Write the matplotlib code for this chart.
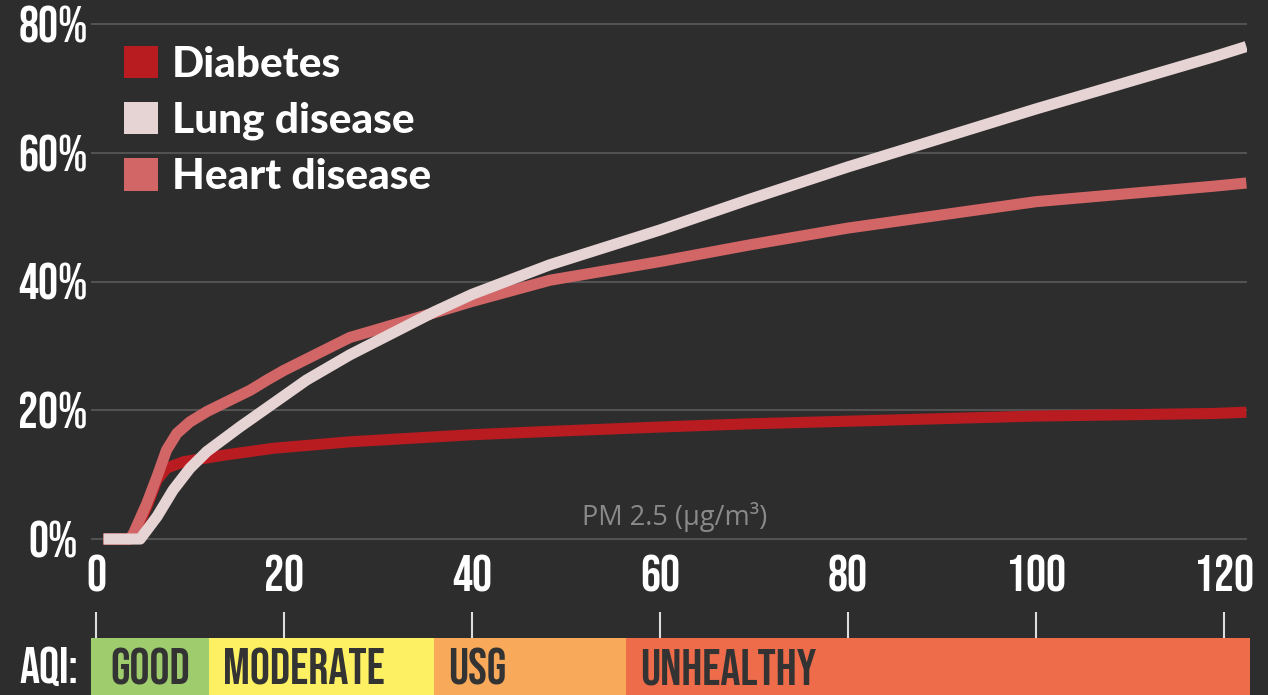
import matplotlib.pyplot as plt
from matplotlib.patches import Patch

# PM 2.5 (ug/m3) vs. increased risk (%)
diabetes_x = [0.8, 3.6, 4.0, 5.4, 6.5, 7.5, 9.3, 13.5, 18.9, 27, 40, 48, 60, 69.6, 80, 100, 118.9, 122.4]
diabetes_y = [0, 0, 0.4, 5.0, 9.2, 11.0, 12.0, 13.0, 14.1, 15.1, 16.2, 16.7, 17.4, 17.9, 18.3, 19.1, 19.5, 19.7]

heart_x = [0.8, 3.6, 4.0, 5.4, 6.5, 7.5, 8.6, 10, 11.8, 14.3, 16.4, 18.2, 20, 27, 36.6, 40, 48.3, 60, 69.6, 80, 100, 118.9, 122.4]
heart_y = [0, 0, 0.9, 5.5, 9.7, 13.8, 16.4, 18.2, 19.8, 21.6, 23.1, 24.7, 26.2, 31.3, 35.4, 36.9, 40.2, 43.1, 45.7, 48.3, 52.4, 54.8, 55.3]

lung_x = [0.8, 4.7, 6.5, 8.2, 10, 11.8, 15.3, 18.9, 22.4, 27, 36, 40, 48.3, 60, 69.6, 80, 100, 118.9, 122.4]
lung_y = [0, 0, 3.5, 7.6, 11.0, 13.6, 17.4, 21.1, 24.7, 28.6, 35.3, 38.0, 42.6, 48.0, 52.8, 57.8, 66.8, 74.9, 76.5]

series_names = ['Diabetes', 'Lung disease', 'Heart disease']
series_colors = ['#b81c21', '#e6d3d3', '#d26566']

aqi_names = ['GOOD', 'MODERATE', 'USG', 'UNHEALTHY']
aqi_start = [-0.5, 12, 36, 56.4]
aqi_end = [12, 36, 56.4, 122.8]
aqi_colors = ['#9fcd6e', '#fdf163', '#f8a95a', '#ef6c4b']

xticks = [0, 20, 40, 60, 80, 100, 120]
yticks = [0, 20, 40, 60, 80]
ylabels = ['0%', '20%', '40%', '60%', '80%']

bg = '#2d2d2d'
narrow = 'Bebas Neue'
W, H = 1268, 695

fig = plt.figure(figsize=(W / 100, H / 100), dpi=100, facecolor=bg)
ax = fig.add_axes([91.3 / W, 1 - 549 / H, 1156 / W, 549 / H])
ax.set_facecolor(bg)
ax.set_xlim(-0.5, 122.5)
ax.set_ylim(-1.55, 83.73)

for y in yticks:
    ax.axhline(y, color='#525252', lw=1.5, zorder=1)

lw = 8
ax.plot(diabetes_x, diabetes_y, color=series_colors[0], lw=lw, solid_capstyle='butt', solid_joinstyle='round', zorder=3)
ax.plot(heart_x, heart_y, color=series_colors[2], lw=lw, solid_capstyle='butt', solid_joinstyle='round', zorder=4)
ax.plot(lung_x, lung_y, color=series_colors[1], lw=lw, solid_capstyle='butt', solid_joinstyle='round', zorder=5)

ax.set_xticks(xticks)
ax.set_xticklabels([str(t) for t in xticks], fontfamily=narrow, fontsize=36, color='white')
ax.set_yticks(yticks)
ax.set_yticklabels(ylabels, fontfamily=narrow, fontsize=36, color='white', ha='center')
ax.tick_params(axis='x', length=0, pad=4)
ax.tick_params(axis='y', length=0, pad=27.5)
for s in ax.spines.values():
    s.set_visible(False)

ax.text(61.6, 3.4, 'PM 2.5 (μg/m³)', color='#8a8a8a', fontsize=19.5, fontfamily='Open Sans',
        ha='center', va='center')

handles = [Patch(facecolor=c, edgecolor='none') for c in series_colors]
leg = ax.legend(handles, series_names, loc='upper left', bbox_to_anchor=(124 / W, 1 - 46 / H),
                bbox_transform=fig.transFigure, frameon=False, borderpad=0, borderaxespad=0,
                handlelength=0.8, handleheight=0.8, handletextpad=0.33, labelspacing=0.42,
                prop={'family': 'Lato', 'weight': 'black', 'size': 30.5})
for t in leg.get_texts():
    t.set_color('white')

# AQI band
ax2 = fig.add_axes([91.3 / W, 0, 1156 / W, 57 / H])
ax2.set_facecolor(bg)
ax2.set_xlim(-0.5, 122.5)
ax2.set_ylim(0, 1)
ax2.barh(0.5, [e - s for s, e in zip(aqi_start, aqi_end)], left=aqi_start, height=1,
         color=aqi_colors, clip_on=False)
for s, name in zip(aqi_start, aqi_names):
    ax2.text(max(s, 0) + 1.5, 0.5, name, color='#333333', fontfamily=narrow,
             fontsize=36, ha='left', va='center')
ax2.text(-0.011, 0.5, 'AQI:', transform=ax2.transAxes, color='white', fontfamily=narrow,
         fontsize=36, ha='right', va='center')
ax2.set_xticks(xticks)
ax2.set_yticks([])
ax2.tick_params(axis='x', bottom=False, top=True, labelbottom=False, direction='out',
                length=19, width=1.5, color='#dddddd')
for s in ax2.spines.values():
    s.set_visible(False)

fig.savefig('out.png', dpi=100, facecolor=bg)
